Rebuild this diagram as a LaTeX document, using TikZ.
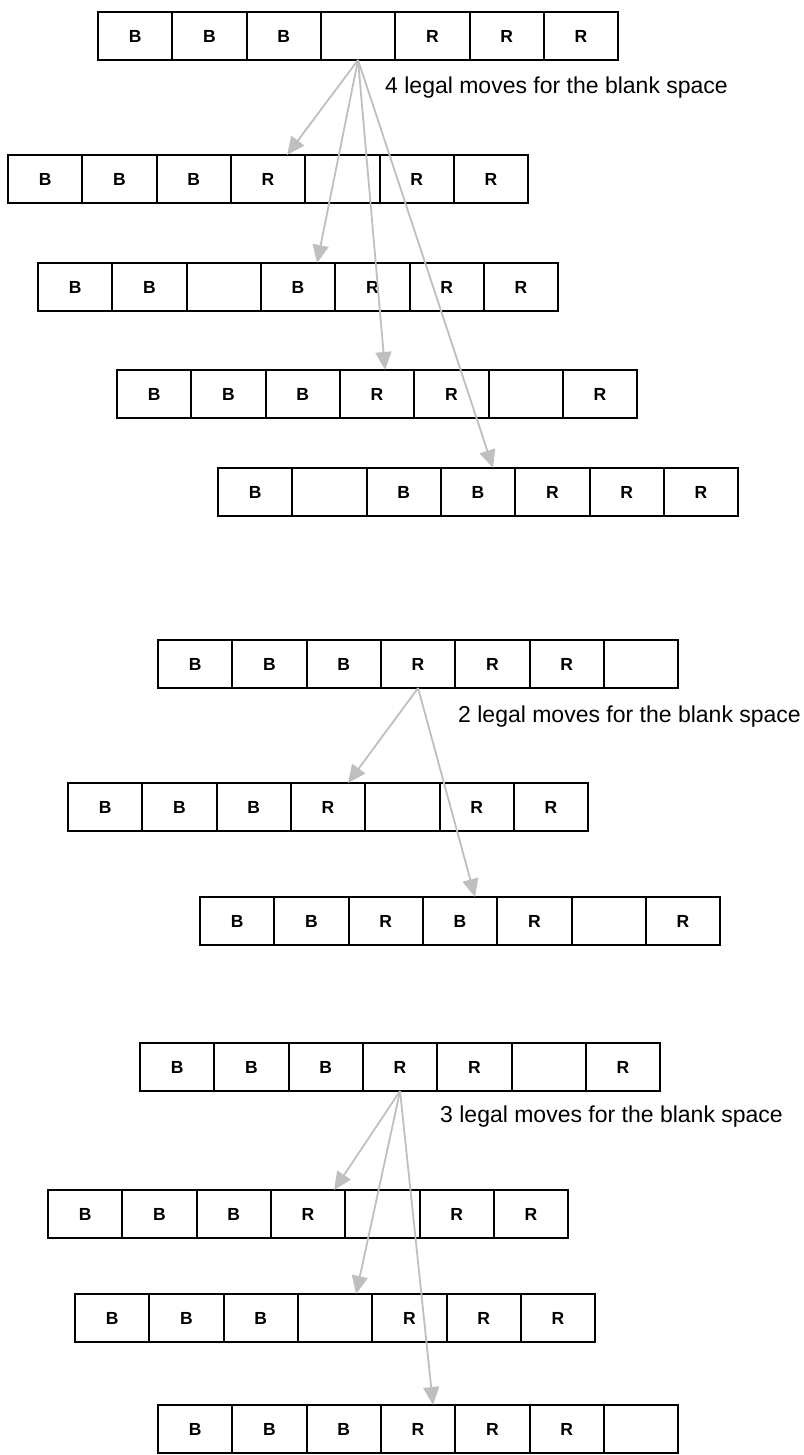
\documentclass[tikz,border=0pt]{standalone}
\usepackage{fontspec}
\setmainfont{Liberation Sans}
\usetikzlibrary{calc,arrows.meta}
\tikzset{
  cellbox/.style={draw=black, line width=2pt, minimum width=74.3pt, minimum height=48pt,
    inner sep=0pt, outer sep=0pt, anchor=north west,
    font=\bfseries\fontsize{17.5}{17.5}\selectfont},
  movearrow/.style={draw=black!25, line width=1.8pt, -{Triangle[length=18pt,width=16pt]}},
  note/.style={font=\fontsize{23}{23}\selectfont, anchor=west, inner sep=0pt}
}
\newcommand\cellrow[4]{%
  \foreach \t [count=\i] in {#4} {
    \node[cellbox] (#1c\i) at ({#2+(\i-1)*74.3},{#3}) {\t};
  }}
\begin{document}
\begin{tikzpicture}[x=1pt,y=-1pt]
\useasboundingbox (0,0) rectangle (803,1455);
\cellrow{r1}{98}{12}{B,B,B,{},R,R,R}
\cellrow{r2}{8}{155}{B,B,B,R,{},R,R}
\cellrow{r3}{38}{263}{B,B,{},B,R,R,R}
\cellrow{r4}{117}{370}{B,B,B,R,R,{},R}
\cellrow{r5}{218}{468}{B,{},B,B,R,R,R}
\cellrow{r6}{158}{640}{B,B,B,R,R,R,{}}
\cellrow{r7}{68}{783}{B,B,B,R,{},R,R}
\cellrow{r8}{200}{897}{B,B,R,B,R,{},R}
\cellrow{r9}{140}{1043}{B,B,B,R,R,{},R}
\cellrow{r10}{48}{1190}{B,B,B,R,{},R,R}
\cellrow{r11}{75}{1294}{B,B,B,{},R,R,R}
\cellrow{r12}{158}{1405}{B,B,B,R,R,R,{}}

\draw[movearrow] (r1c4.south) -- ($(r2c4.north)+(19,0)$);
\draw[movearrow] (r1c4.south) -- ($(r3c4.north)+(19,0)$);
\draw[movearrow] (r1c4.south) -- ($(r4c4.north)+(8,0)$);
\draw[movearrow] (r1c4.south) -- ($(r5c4.north)+(15,0)$);

\draw[movearrow] (r6c4.south) -- ($(r7c4.north)+(20,0)$);
\draw[movearrow] (r6c4.south) -- ($(r8c4.north)+(15,0)$);

\draw[movearrow] (r9c4.south) -- ($(r10c4.north)+(26,0)$);
\draw[movearrow] (r9c4.south) -- ($(r11c4.north)+(21,0)$);
\draw[movearrow] (r9c4.south) -- ($(r12c4.north)+(15,0)$);

\node[note] (l1) at (385,88) {4 legal moves for the blank space};
\node[note] (l2) at (458,717) {2 legal moves for the blank space};
\node[note] (l3) at (440,1117) {3 legal moves for the blank space};
\end{tikzpicture}
\end{document}
